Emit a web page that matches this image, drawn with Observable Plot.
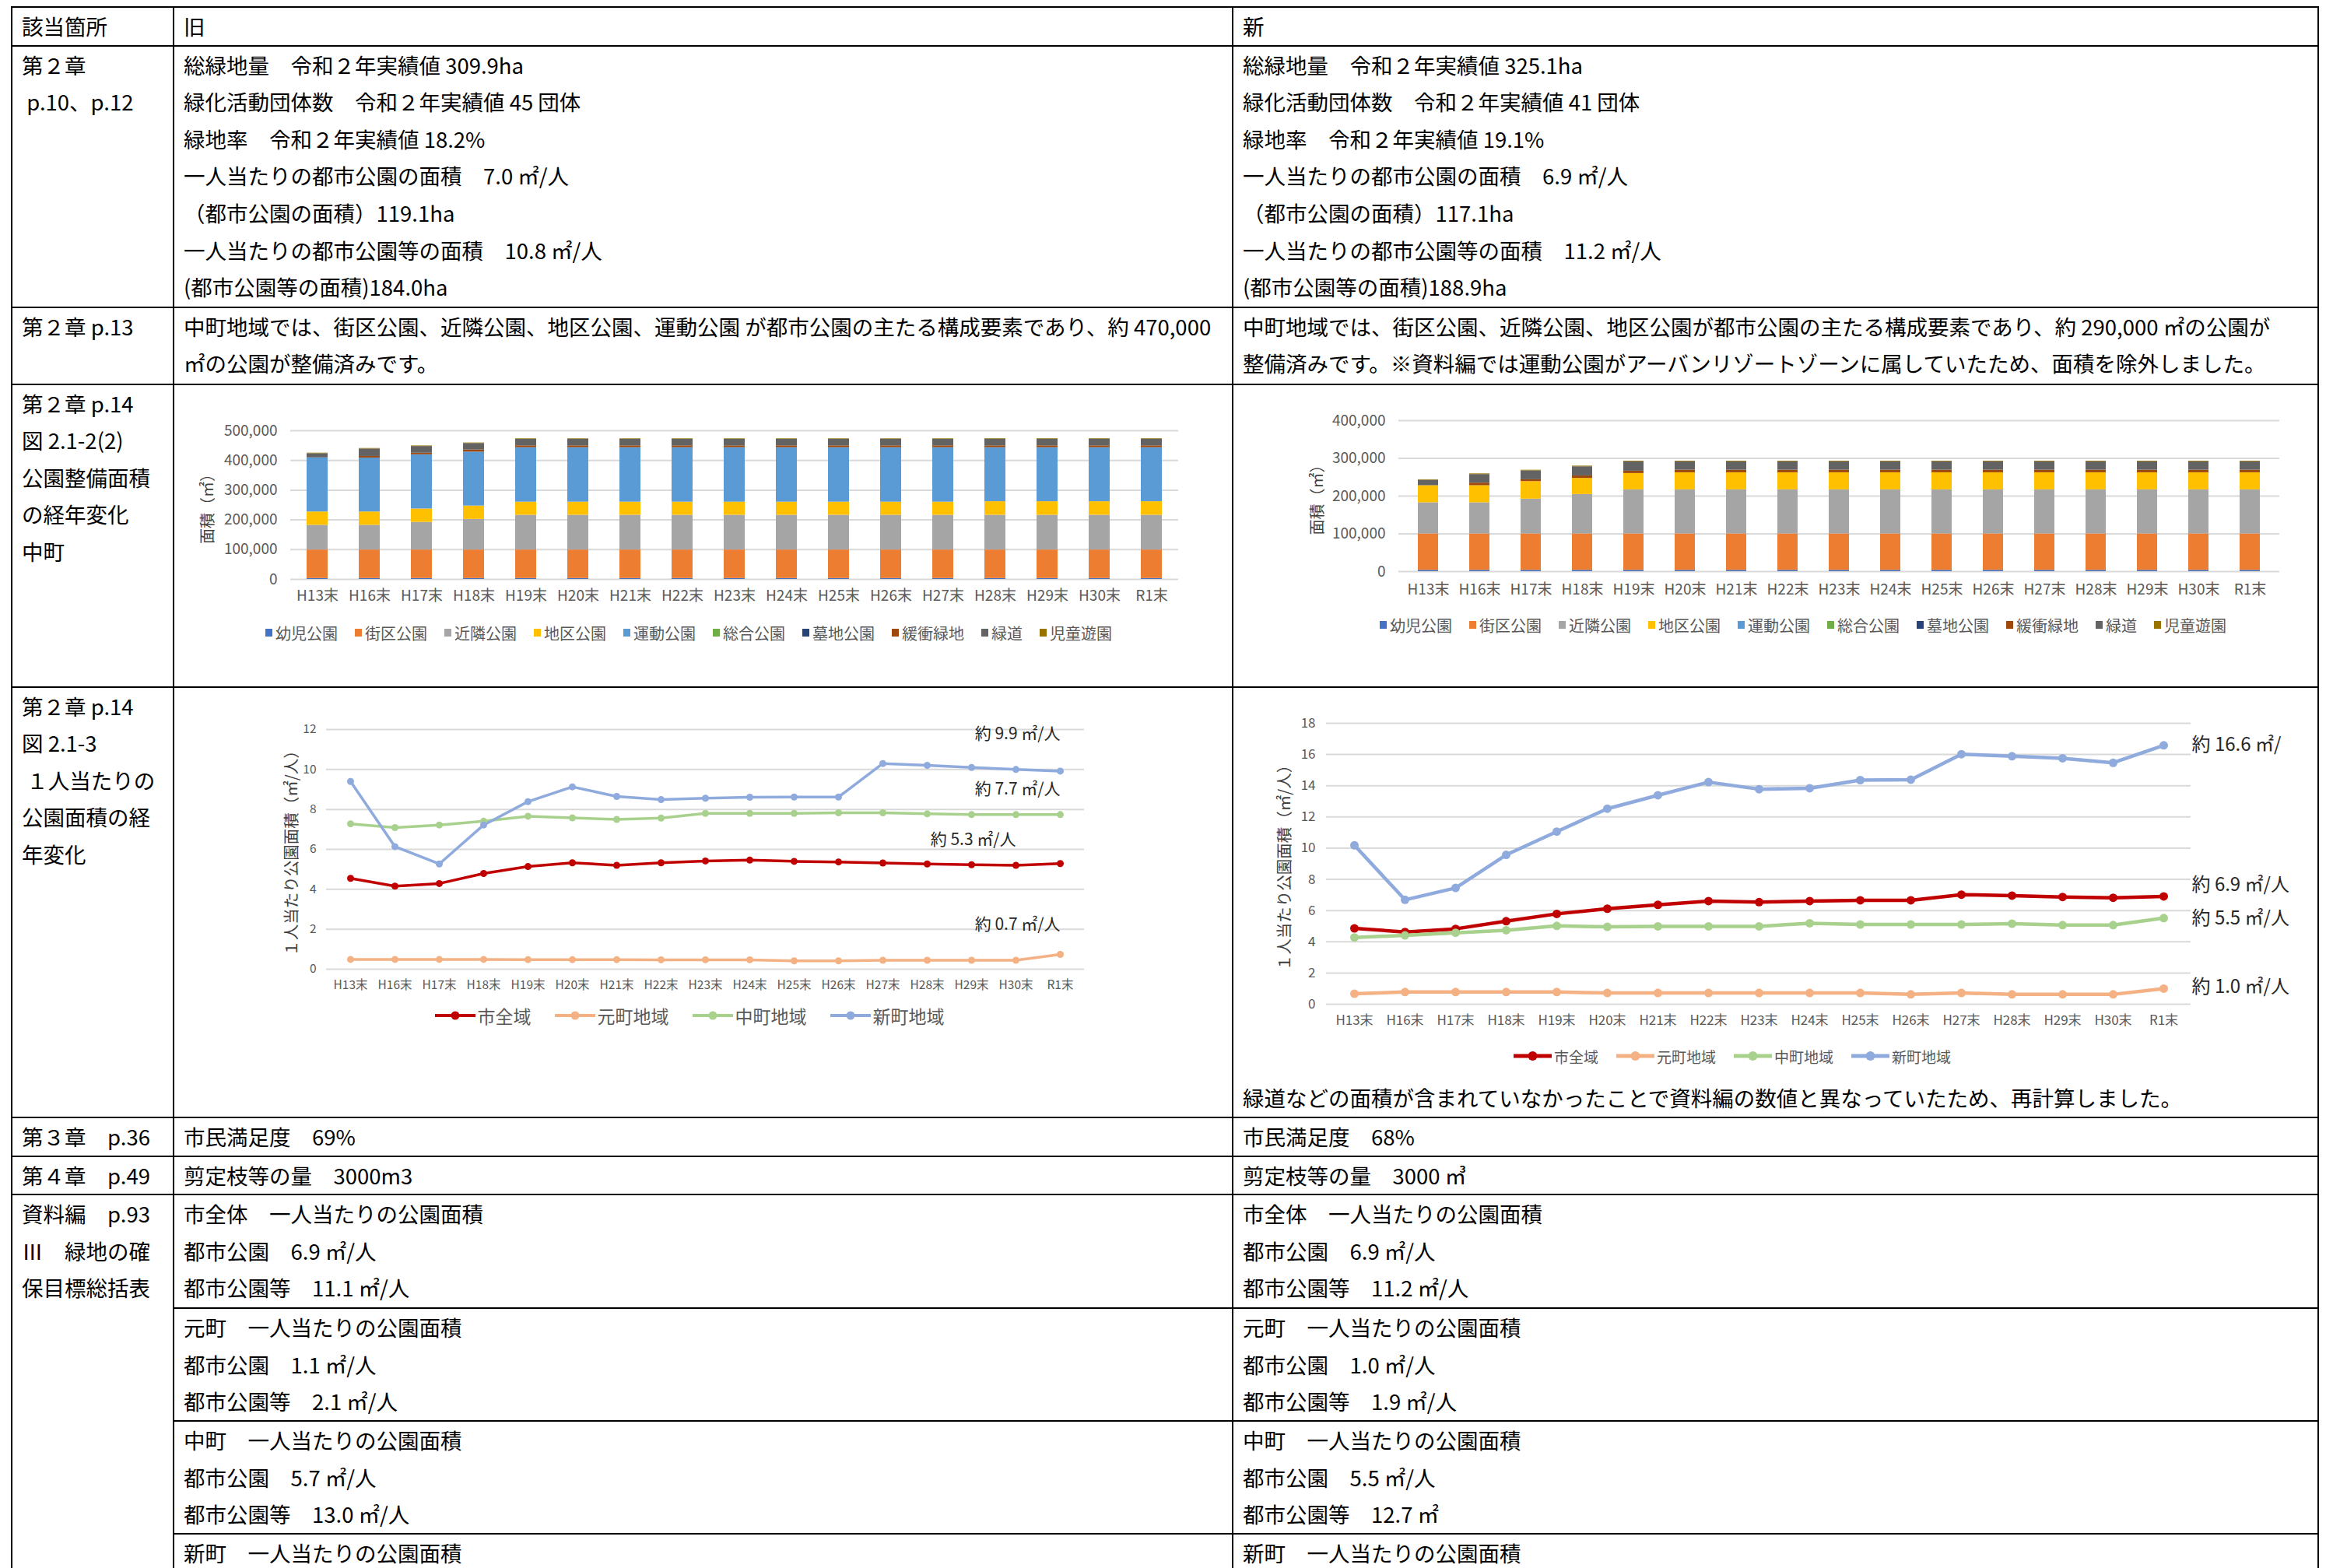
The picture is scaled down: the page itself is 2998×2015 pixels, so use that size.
<!DOCTYPE html>
<html><head><meta charset="utf-8">
<script src="https://cdn.jsdelivr.net/npm/d3@7"></script>
<script src="https://cdn.jsdelivr.net/npm/@observablehq/plot@0.6"></script>
<style>
html,body{margin:0;padding:0;background:#fff;}
#page{position:relative;width:2998px;height:2015px;overflow:hidden;font-family:'Noto Sans CJK JP','Noto Sans',sans-serif;background:#fff;}
#tbl{position:absolute;left:14px;top:8px;border-collapse:collapse;table-layout:fixed;width:2964px;font-size:27.5px;line-height:47.6px;color:#000;}
#tbl td{border:2.5px solid #000;vertical-align:top;padding:0 0 0 12px;white-space:nowrap;overflow:hidden;}
.chart{position:absolute;}
.chart svg{display:block;max-width:none;}
.legend{position:absolute;display:flex;justify-content:center;align-items:center;height:28px;white-space:nowrap;font-family:'Noto Sans CJK JP','Noto Sans',sans-serif;color:#595959;}
.legend .barlg-swatches{margin:0 !important;min-height:0 !important;justify-content:center;flex-wrap:nowrap !important;}
.legend .barlg-swatch{margin-right:22px !important;}
.legend .barlg-swatch:last-child{margin-right:0 !important;}
.legend .barlg-swatch > svg{margin-right:4px !important;}
.li{display:inline-flex;align-items:center;}
.li svg{margin-right:3px;overflow:visible;}
</style>
</head><body>
<div id="page">
<table id="tbl">
<colgroup><col style="width:208px"><col style="width:1361px"><col style="width:1395px"></colgroup>
<tr style="height:49px"><td>該当箇所</td><td>旧</td><td>新</td></tr>
<tr style="height:336px"><td>第２章<br>&nbsp;p.10、p.12</td>
<td>総緑地量　令和２年実績値 309.9ha<br>緑化活動団体数　令和２年実績値 45 団体<br>緑地率　令和２年実績値 18.2%<br>一人当たりの都市公園の面積　7.0 ㎡/人<br>（都市公園の面積）119.1ha<br>一人当たりの都市公園等の面積　10.8 ㎡/人<br>(都市公園等の面積)184.0ha</td>
<td>総緑地量　令和２年実績値 325.1ha<br>緑化活動団体数　令和２年実績値 41 団体<br>緑地率　令和２年実績値 19.1%<br>一人当たりの都市公園の面積　6.9 ㎡/人<br>（都市公園の面積）117.1ha<br>一人当たりの都市公園等の面積　11.2 ㎡/人<br>(都市公園等の面積)188.9ha</td></tr>
<tr style="height:99px"><td>第２章 p.13</td>
<td>中町地域では、街区公園、近隣公園、地区公園、運動公園 が都市公園の主たる構成要素であり、約 470,000<br>㎡の公園が整備済みです。</td>
<td>中町地域では、街区公園、近隣公園、地区公園が都市公園の主たる構成要素であり、約 290,000 ㎡の公園が<br>整備済みです。※資料編では運動公園がアーバンリゾートゾーンに属していたため、面積を除外しました。</td></tr>
<tr style="height:389px"><td>第２章 p.14<br>図 2.1-2(2)<br>公園整備面積<br>の経年変化<br>中町</td><td></td><td></td></tr>
<tr style="height:553px"><td>第２章 p.14<br>図 2.1-3<br>&nbsp;１人当たりの<br>公園面積の経<br>年変化</td><td></td>
<td style="vertical-align:bottom">緑道などの面積が含まれていなかったことで資料編の数値と異なっていたため、再計算しました。</td></tr>
<tr style="height:50px"><td>第３章　p.36</td><td>市民満足度　69%</td><td>市民満足度　68%</td></tr>
<tr style="height:49px"><td>第４章　p.49</td><td>剪定枝等の量　3000m3</td><td>剪定枝等の量　3000 ㎥</td></tr>
<tr style="height:146px"><td rowspan="4">資料編　p.93<br>Ⅲ　緑地の確<br>保目標総括表</td>
<td>市全体　一人当たりの公園面積<br>都市公園　6.9 ㎡/人<br>都市公園等　11.1 ㎡/人</td>
<td>市全体　一人当たりの公園面積<br>都市公園　6.9 ㎡/人<br>都市公園等　11.2 ㎡/人</td></tr>
<tr style="height:145px"><td>元町　一人当たりの公園面積<br>都市公園　1.1 ㎡/人<br>都市公園等　2.1 ㎡/人</td>
<td>元町　一人当たりの公園面積<br>都市公園　1.0 ㎡/人<br>都市公園等　1.9 ㎡/人</td></tr>
<tr style="height:145px"><td>中町　一人当たりの公園面積<br>都市公園　5.7 ㎡/人<br>都市公園等　13.0 ㎡/人</td>
<td>中町　一人当たりの公園面積<br>都市公園　5.5 ㎡/人<br>都市公園等　12.7 ㎡</td></tr>
<tr style="height:146px"><td>新町　一人当たりの公園面積</td><td>新町　一人当たりの公園面積</td></tr>
</table>
<div id="oldBar" class="chart" style="left:230px;top:500px;"></div>
<div id="newBar" class="chart" style="left:1590px;top:490px;"></div>
<div id="oldLine" class="chart" style="left:230px;top:890px;"></div>
<div id="newLine" class="chart" style="left:1590px;top:880px;"></div>
<div id="oldBarLg" class="legend" style="left:235px;top:799px;width:1300px;font-size:20px;"></div>
<div id="newBarLg" class="legend" style="left:1667px;top:789px;width:1300px;font-size:20px;"></div>
<div id="oldLineLg" class="legend" style="left:386px;top:1291px;width:1000px;font-size:23px;"></div>
<div id="newLineLg" class="legend" style="left:1726px;top:1343px;width:1000px;font-size:19px;"></div>
</div>
<script>
// ---- categories ----
const years = ["H13末","H16末","H17末","H18末","H19末","H20末","H21末","H22末","H23末","H24末","H25末","H26末","H27末","H28末","H29末","H30末","R1末"];
const parkTypes = ["幼児公園","街区公園","近隣公園","地区公園","運動公園","総合公園","墓地公園","緩衝緑地","緑道","児童遊園"];
const parkColors = ["#4472C4","#ED7D31","#A5A5A5","#FFC000","#5B9BD5","#70AD47","#264478","#9E480E","#636363","#997300"];
const regions = ["市全域","元町地域","中町地域","新町地域"];
const regionColors = ["#C00000","#F4B183","#A9D18E","#8FAADC"];

// ---- old bar chart (旧) segment values, m² ----
const oldYouji   = [3000,3000,3000,3000,3000,3000,3000,3000,3000,3000,3000,3000,3000,3000,3000,3000,3000];
const oldGaiku   = [96000,96000,96000,96000,96000,96000,96000,96000,96000,96000,96000,96000,96000,96000,96000,96000,96000];
const oldKinrin  = [83000,83000,93000,103000,117000,117000,117000,117000,117000,117000,117000,117000,117000,117000,117000,117000,117000];
const oldChiku   = [45000,45000,45000,45000,44000,44000,44000,44000,44000,44000,44000,44000,44000,45500,45500,45500,45500];
const oldUndou   = [182000,181500,182400,181400,183300,183300,183300,183300,183300,183300,183300,183300,183300,181800,181800,181800,181800];
const oldSougou  = [0,0,0,0,0,0,0,0,0,0,0,0,0,0,0,0,0];
const oldBochi   = [0,0,0,0,0,0,0,0,0,0,0,0,0,0,0,0,0];
const oldKanshou = [0,5200,5300,7000,6100,6100,6100,6100,6100,6100,6100,6100,6100,6100,6100,6100,6100];
const oldRyokudo = [14000,25000,22600,21800,21800,21800,21800,21800,21800,21800,21800,21800,21800,22500,22500,22500,22500];
const oldJidou   = [1800,1800,1800,1800,1800,1800,1800,1800,1800,1800,1800,1800,1800,1800,1800,1800,1800];

// ---- new bar chart (新) segment values, m² ----
const newYouji   = [3500,3500,3500,3500,3500,3500,3500,3500,3500,3500,3500,3500,3500,3500,3500,3500,3500];
const newGaiku   = [96500,96500,96500,96500,96500,96500,96500,96500,96500,96500,96500,96500,96500,96500,96500,96500,96500];
const newKinrin  = [82500,82500,92100,104400,116800,116800,116800,116800,116800,116800,116800,116800,116800,116800,116800,116800,116800];
const newChiku   = [45300,45300,46600,42600,43200,45200,45200,45200,45200,45200,45200,45200,45200,45200,45200,45200,45200];
const newUndou   = [0,0,0,0,0,0,0,0,0,0,0,0,0,0,0,0,0];
const newSougou  = [0,0,0,0,0,0,0,0,0,0,0,0,0,0,0,0,0];
const newBochi   = [0,0,0,0,0,0,0,0,0,0,0,0,0,0,0,0,0];
const newKanshou = [0,6800,4800,6800,6200,6900,6900,6900,6900,6900,6900,6900,6900,6900,6900,6900,6900];
const newRyokudo = [14200,22700,23400,24000,24700,22000,22000,22000,22000,22000,22000,22000,22000,22000,22000,22000,22000];
const newJidou   = [1500,1800,1800,1800,1800,1800,1800,1800,1800,1800,1800,1800,1800,1800,1800,1800,1800];

// ---- line charts, ㎡/人 ----
const oldCity = [4.55,4.16,4.29,4.79,5.14,5.33,5.20,5.33,5.42,5.46,5.40,5.37,5.32,5.27,5.23,5.20,5.29];
const oldMoto = [0.49,0.49,0.49,0.49,0.48,0.48,0.48,0.47,0.47,0.47,0.42,0.42,0.45,0.45,0.45,0.45,0.74];
const oldNaka = [7.28,7.09,7.22,7.41,7.66,7.58,7.50,7.57,7.80,7.80,7.80,7.83,7.83,7.78,7.74,7.74,7.74];
const oldShin = [9.40,6.14,5.27,7.22,8.39,9.13,8.65,8.49,8.56,8.61,8.62,8.62,10.30,10.21,10.10,10.00,9.92];
const newCity = [4.86,4.63,4.83,5.32,5.79,6.12,6.37,6.61,6.54,6.61,6.66,6.66,7.02,6.96,6.87,6.82,6.91];
const newMoto = [0.67,0.78,0.78,0.78,0.78,0.72,0.72,0.72,0.72,0.72,0.72,0.63,0.72,0.63,0.63,0.63,1.00];
const newNaka = [4.28,4.41,4.58,4.74,5.02,4.96,4.99,4.99,4.99,5.19,5.11,5.11,5.11,5.16,5.07,5.07,5.52];
const newShin = [10.18,6.69,7.45,9.57,11.06,12.53,13.39,14.23,13.78,13.84,14.36,14.39,16.02,15.89,15.76,15.47,16.59];

// ---- ticks ----
const oldBarTicks = [0,100000,200000,300000,400000,500000];
const newBarTicks = [0,100000,200000,300000,400000];
const oldLineTicks = [0,2,4,6,8,10,12];
const newLineTicks = [0,2,4,6,8,10,12,14,16,18];

// ---- titles & annotations ----
const barTitle = "面積（㎡）";
const lineTitle = "１人当たり公園面積（㎡/人）";
const oldNoteLabels = ["約 9.9 ㎡/人","約 7.7 ㎡/人","約 5.3 ㎡/人","約 0.7 ㎡/人"];
const oldNoteYears  = ["R1末","R1末","H30末","R1末"];
const oldNoteValues = [11.77,9.0,6.47,2.22];
const newNoteLabels = ["約 16.6 ㎡/","約 6.9 ㎡/人","約 5.5 ㎡/人","約 1.0 ㎡/人"];
const newNoteYears  = ["R1末","R1末","R1末","R1末"];
const newNoteValues = [16.6,7.63,5.49,1.1];

const FONT = "'Noto Sans CJK JP','Noto Sans',sans-serif";

function makeBar(series, ticks, o) {
  const data = [];
  parkTypes.forEach((t, i) => series[i].forEach((v, j) => data.push({year: years[j], type: t, value: v})));
  return Plot.plot({
    width: o.width, height: o.height,
    marginLeft: o.ml, marginRight: o.mr, marginTop: o.mt, marginBottom: o.mb,
    style: `font-family:${FONT};font-size:19px;color:#595959;background:transparent;overflow:visible;`,
    x: {type: "band", domain: years, paddingInner: 0.6, paddingOuter: 0.3, label: null},
    y: {domain: [ticks[0], ticks[ticks.length - 1]], label: null},
    color: {domain: parkTypes, range: parkColors},
    marks: [
      Plot.gridY(ticks, {stroke: "#D9D9D9", strokeOpacity: 1, strokeWidth: 2}),
      Plot.barY(data, {x: "year", y: "value", fill: "type"}),
      Plot.axisY(ticks, {tickSize: 0, tickPadding: o.ytp, tickFormat: d3.format(","), label: null}),
      Plot.axisX({tickSize: 0, tickPadding: o.xtp, label: null}),
      Plot.text([barTitle], {frameAnchor: "left", textAnchor: "middle", lineAnchor: "middle", rotate: -90, dx: o.tdx, fontSize: 20, fill: "#404040"})
    ]
  });
}

function makeLine(series, ticks, labels, ys, vals, o) {
  const data = [];
  regions.forEach((r, i) => series[i].forEach((v, j) => data.push({year: years[j], region: r, value: v})));
  const notes = labels.map((l, i) => ({label: l, year: ys[i], value: vals[i]}));
  return Plot.plot({
    width: o.width, height: o.height,
    marginLeft: o.ml, marginRight: o.mr, marginTop: o.mt, marginBottom: o.mb,
    style: `font-family:${FONT};font-size:${o.fs}px;color:#595959;background:transparent;overflow:visible;`,
    x: {type: "point", domain: years, padding: 0.5, label: null},
    y: {domain: [ticks[0], ticks[ticks.length - 1]], label: null},
    color: {domain: regions, range: regionColors},
    marks: [
      Plot.gridY(ticks, {stroke: "#D9D9D9", strokeOpacity: 1, strokeWidth: 2}),
      Plot.lineY(data, {x: "year", y: "value", z: "region", stroke: "region", strokeWidth: o.sw}),
      Plot.dot(data, {x: "year", y: "value", fill: "region", r: o.r}),
      Plot.axisY(ticks, {tickSize: 0, tickPadding: o.ytp, label: null}),
      Plot.axisX({tickSize: 0, tickPadding: o.xtp, label: null}),
      Plot.text([lineTitle], {frameAnchor: "left", textAnchor: "middle", lineAnchor: "middle", rotate: -90, dx: o.tdx, fontSize: o.tfs, fill: "#404040"}),
      Plot.text(notes, {x: "year", y: "value", text: "label", textAnchor: o.anchor, dx: o.ndx, fontSize: o.nfs, fill: "#262626"})
    ]
  });
}

document.getElementById("oldBar").append(makeBar(
  [oldYouji, oldGaiku, oldKinrin, oldChiku, oldUndou, oldSougou, oldBochi, oldKanshou, oldRyokudo, oldJidou],
  oldBarTicks, {width: 1340, height: 300, ml: 143, mr: 56, mt: 53, mb: 56, ytp: 17, xtp: 14, tdx: -106}));
document.getElementById("newBar").append(makeBar(
  [newYouji, newGaiku, newKinrin, newChiku, newUndou, newSougou, newBochi, newKanshou, newRyokudo, newJidou],
  newBarTicks, {width: 1380, height: 300, ml: 207, mr: 41, mt: 50, mb: 56, ytp: 17, xtp: 16, tdx: -104}));
document.getElementById("oldLine").append(makeLine(
  [oldCity, oldMoto, oldNaka, oldShin], oldLineTicks, oldNoteLabels, oldNoteYears, oldNoteValues,
  {width: 1340, height: 400, ml: 189, mr: 177, mt: 47, mb: 45, fs: 15.5, ytp: 13, xtp: 14, tdx: -44, tfs: 20.5,
   sw: 3.5, r: 4.5, anchor: "end", ndx: 0, nfs: 21}));
document.getElementById("newLine").append(makeLine(
  [newCity, newMoto, newNaka, newShin], newLineTicks, newNoteLabels, newNoteYears, newNoteValues,
  {width: 1380, height: 460, ml: 114, mr: 155, mt: 49, mb: 50, fs: 17, ytp: 14, xtp: 14.5, tdx: -53, tfs: 20.5,
   sw: 4.5, r: 5.5, anchor: "start", ndx: 36, nfs: 24}));

// bar legends through Plot.legend
for (const id of ["oldBarLg", "newBarLg"]) {
  document.getElementById(id).append(Plot.legend({
    color: {domain: parkTypes, range: parkColors},
    swatchWidth: 9, swatchHeight: 10, className: "barlg",
    style: `font-family:${FONT};font-size:20px;color:#595959;`
  }));
}

// line legends
function lineLegend(id, sw, r, lw, gap) {
  const el = document.getElementById(id);
  regions.forEach((name, i) => {
    const it = document.createElement("span");
    it.className = "li";
    if (i < regions.length - 1) it.style.marginRight = gap + "px";
    it.innerHTML = `<svg width="${lw}" height="16"><line x1="0" x2="${lw}" y1="8" y2="8" stroke="${regionColors[i]}" stroke-width="${sw}"/><circle cx="${lw/2}" cy="8" r="${r}" fill="${regionColors[i]}"/></svg><span>${name}</span>`;
    el.append(it);
  });
}
lineLegend("oldLineLg", 4, 5.5, 52, 30);
lineLegend("newLineLg", 5, 6, 49, 23);
</script>
</body></html>
